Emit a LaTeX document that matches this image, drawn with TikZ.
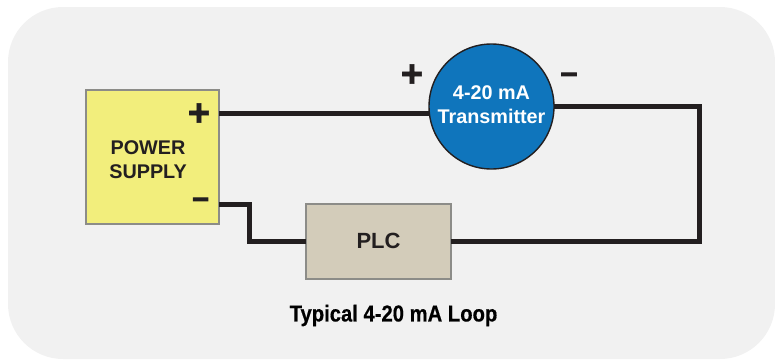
\documentclass[tikz,border=0pt]{standalone}
\usepackage{fontspec}
\setmainfont{Liberation Sans}
\newfontfamily\titlefont[FakeStretch=0.88,BoldFeatures={FakeBold=0.5}]{Liberation Sans}
\newfontfamily\signfont[Ligatures=TeX,BoldFeatures={FakeBold=1.6}]{Liberation Sans}
\newfontfamily\minusfont[Ligatures=TeX,BoldFeatures={FakeBold=4}]{Liberation Sans}
\usetikzlibrary{positioning}
\definecolor{panelgray}{HTML}{F1F1F1}
\definecolor{boxedge}{HTML}{8C8C88}
\definecolor{inkdark}{HTML}{231F20}
\definecolor{supplyyellow}{HTML}{F2EE7C}
\definecolor{plctan}{HTML}{D3CCBA}
\definecolor{transblue}{HTML}{0F75BC}

\begin{document}
\begin{tikzpicture}[outer sep=0pt, inner sep=0pt, box/.style={draw=boxedge, line width=1.4pt, text=inkdark, font=\bfseries\fontsize{19.8pt}{24pt}\selectfont, align=center}, wire/.style={draw=inkdark, line width=5pt}, plussign/.style={text=inkdark, font=\signfont\bfseries\fontsize{38pt}{38pt}\selectfont}, minussign/.style={text=inkdark, font=\minusfont\bfseries\fontsize{29pt}{29pt}\selectfont}]
  \useasboundingbox (0pt, 0pt) rectangle (775pt, -359pt);
  \fill[panelgray, rounded corners=55pt] (8pt, -7pt) rectangle (775pt, -359pt);
  \draw (152.4pt, -157pt)node[box, fill=supplyyellow, minimum width=133pt, minimum height=134pt](supply){};
  \draw (148pt, -159.7pt)node[box, draw=none](supplytext){POWER\\SUPPLY};
  \draw (378.5pt, -241.5pt)node[box, fill=plctan, minimum width=145pt, minimum height=75pt, text depth=2pt, font=\bfseries\fontsize{22pt}{24pt}\selectfont](plc){PLC};
  \draw (491.5pt, -106.5pt)node[box, circle, draw=inkdark, fill=transblue, minimum size=125pt](transmitter){};
  \draw (491.5pt, -104.5pt)node[box, draw=none, text=white](transmittertext){4-20 mA\\Transmitter};
  \draw (199pt, -114.5pt)node[plussign](supplyplus){+};
  \draw (200.7pt, -202.5pt)node[minussign](supplyminus){--};
  \draw (412pt, -75.5pt)node[plussign](transplus){+};
  \draw (569pt, -77.5pt)node[minussign](transminus){--};
  \draw (393.5pt, -315.5pt)node[text=black, font=\titlefont\bfseries\fontsize{23pt}{26pt}\selectfont](looptitle){Typical 4-20 mA Loop};
  \coordinate (rightcorner) at (699pt, -106.5pt);
  \coordinate (minusout) at (219pt, -204.3pt);
  \coordinate (plcbend) at (249.3pt, -204.3pt);
  \path[wire] (supply.east |- transmitter.186) -- (transmitter.186);
  \path[wire] (transmitter.east) -- (rightcorner) |- (plc.east);
  \path[wire] (minusout) -- (plcbend) |- (plc.west);
\end{tikzpicture}
\end{document}
